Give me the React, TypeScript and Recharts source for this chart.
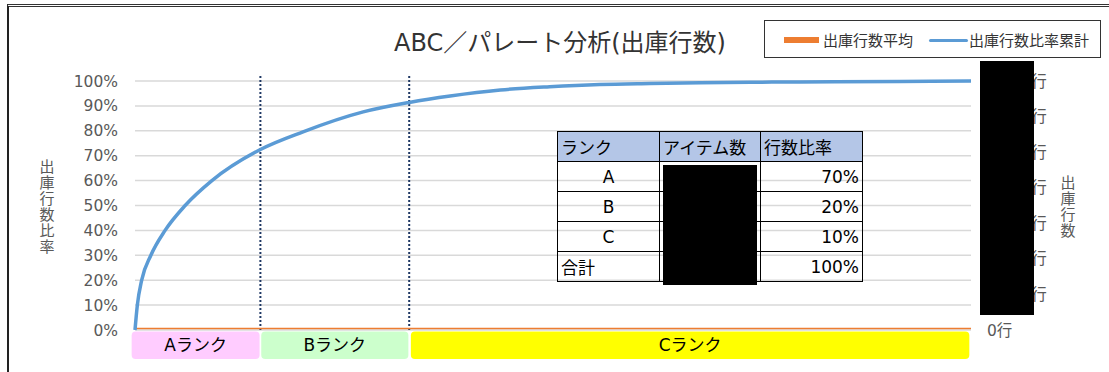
import React from 'react';
import { LineChart, Line, XAxis, YAxis, CartesianGrid, ReferenceLine, ReferenceArea } from 'recharts';

// 累計比率カーブ（アイテム比率% → 出庫行数比率累計%）
const itemShare = [0, 0.28, 0.8, 1.9, 3.6, 6.0, 9.2, 15.0, 20.1, 27.3, 32.8, 37.7, 43.7, 49.6, 55.6, 61.6, 67.6, 73.6, 79.5, 91.5, 100];
const cumRatio = [0, 10, 20, 30, 40, 50, 60, 72.5, 79.6, 87.6, 91.4, 94.0, 96.4, 97.7, 98.6, 99.0, 99.3, 99.5, 99.6, 99.8, 100];

// 出庫行数平均（右軸）
const avgX = [0, 100];
const avgRows = [40, 40];

const leftTicks = [0, 10, 20, 30, 40, 50, 60, 70, 80, 90, 100];
const rightTicks = [0, 1000, 2000, 3000, 4000, 5000, 6000, 7000];

// ランク境界
const rankCuts = [15.0, 32.8];
const rankNames = ['Aランク', 'Bランク', 'Cランク'];
const rankFrom = [-0.4, 15.1, 33.0];
const rankTo = [14.9, 32.7, 99.8];
const rankColors = ['#ffccff', '#ccffcc', '#ffff00'];

// 表
const tableRanks = ['A', 'B', 'C', '合計'];
const tableShares = ['70%', '20%', '10%', '100%'];

const curveData = itemShare.map((x, i) => ({ x, ratio: cumRatio[i] }));
const avgData = avgX.map((x, i) => ({ x, avg: avgRows[i] }));

const FONT = "'DejaVu Sans', 'Noto Sans CJK JP', sans-serif";
const GRAY = '#595959';

const VerticalText: React.FC<{ text: string; left: number; top: number }> = ({ text, left, top }) => (
  <div style={{ position: 'absolute', left, top, width: 20, textAlign: 'center', fontSize: 15, lineHeight: '16px', color: GRAY }}>
    {text.split('').map((c, i) => <div key={i}>{c}</div>)}
  </div>
);

const cell: React.CSSProperties = { border: '1.5px solid #000', padding: '0 3px', height: 29, fontSize: 17 };

export default function App() {
  return (
    <div style={{ position: 'absolute', left: 0, top: 0, width: 1109, height: 372, background: '#fff', fontFamily: FONT, overflow: 'hidden' }}>
      {/* 枠 */}
      <div style={{ position: 'absolute', left: 7, top: 4, width: 1120, height: 400, borderTop: '3px double #333', borderLeft: '2px solid #222' }} />

      <LineChart width={1109} height={372} margin={{ top: 81, right: 0, bottom: 42, left: 0 }} style={{ position: 'absolute', left: 0, top: 0 }}>
        <CartesianGrid yAxisId="left" vertical={false} stroke="#d9d9d9" strokeWidth={1.5} />
        <XAxis dataKey="x" type="number" domain={[0, 100]} hide />
        <YAxis yAxisId="left" domain={[0, 100]} ticks={leftTicks} width={135} axisLine={false} tickLine={false} tickSize={0} tickMargin={17}
          tickFormatter={(v: number) => `${v}%`} tick={{ fill: GRAY, fontSize: 15.5, fontFamily: FONT }} />
        <YAxis yAxisId="right" orientation="right" domain={[0, 7000]} ticks={rightTicks} width={138} axisLine={false} tickLine={false} tickSize={0} tickMargin={16}
          tickFormatter={(v: number) => `${v.toLocaleString('en-US')}行`} tick={{ fill: GRAY, fontSize: 15.5, fontFamily: FONT }} />
        {rankNames.map((name, i) => (
          <ReferenceArea key={name} yAxisId="left" x1={rankFrom[i]} x2={rankTo[i]} y1={-0.6} y2={-11.6} ifOverflow="visible"
            shape={(p: any) => <rect x={p.x} y={p.y} width={p.width} height={p.height} rx={4} ry={4} fill={rankColors[i]} />}
            label={{ value: name, position: 'center', fill: '#000', fontSize: 17, fontFamily: FONT }} />
        ))}
        {rankCuts.map((c) => (
          <ReferenceLine key={c} yAxisId="left" segment={[{ x: c, y: 102 }, { x: c, y: 0 }]} ifOverflow="visible" stroke="#1f3864" strokeWidth={2} strokeDasharray="2 2" />
        ))}
        <Line yAxisId="right" data={avgData} dataKey="avg" stroke="#ed7d31" strokeWidth={1.5} dot={false} isAnimationActive={false} />
        <Line yAxisId="left" data={curveData} dataKey="ratio" type="monotone" stroke="#5b9bd5" strokeWidth={3.5} dot={false} isAnimationActive={false} />
      </LineChart>

      {/* タイトル */}
      <div style={{ position: 'absolute', left: 360, width: 400, top: 23, textAlign: 'center', fontSize: 24, color: '#333' }}>ABC／パレート分析(出庫行数)</div>

      {/* 凡例 */}
      <div style={{ position: 'absolute', left: 764, top: 20, width: 335, height: 36, border: '1.5px solid #333', fontSize: 15, color: '#333' }}>
        <div style={{ position: 'absolute', left: 19, top: 16, width: 35, height: 6, background: '#ed7d31' }} />
        <div style={{ position: 'absolute', left: 58, top: 8 }}>出庫行数平均</div>
        <div style={{ position: 'absolute', left: 164, top: 18, width: 39, height: 3, background: '#5b9bd5', borderRadius: 2 }} />
        <div style={{ position: 'absolute', left: 204, top: 8 }}>出庫行数比率累計</div>
      </div>

      <VerticalText text="出庫行数比率" left={37} top={159} />
      <VerticalText text="出庫行数" left={1058} top={175} />

      {/* 表 */}
      <table style={{ position: 'absolute', left: 557, top: 131, borderCollapse: 'collapse', fontFamily: FONT, color: '#000' }}>
        <thead>
          <tr style={{ background: '#b4c6e7' }}>
            <td style={{ ...cell, width: 95, textAlign: 'left' }}>ランク</td>
            <td style={{ ...cell, width: 94, textAlign: 'left' }}>アイテム数</td>
            <td style={{ ...cell, width: 95, textAlign: 'left' }}>行数比率</td>
          </tr>
        </thead>
        <tbody>
          {tableRanks.map((r, i) => (
            <tr key={r}>
              <td style={{ ...cell, textAlign: i < 3 ? 'center' : 'left' }}>{r}</td>
              <td style={{ ...cell }} />
              <td style={{ ...cell, textAlign: 'right' }}>{tableShares[i]}</td>
            </tr>
          ))}
        </tbody>
      </table>

      {/* 伏せ字 */}
      <div style={{ position: 'absolute', left: 663, top: 165, width: 94, height: 120, background: '#000' }} />
      <div style={{ position: 'absolute', left: 980, top: 61, width: 54, height: 254, background: '#000' }} />
    </div>
  );
}
